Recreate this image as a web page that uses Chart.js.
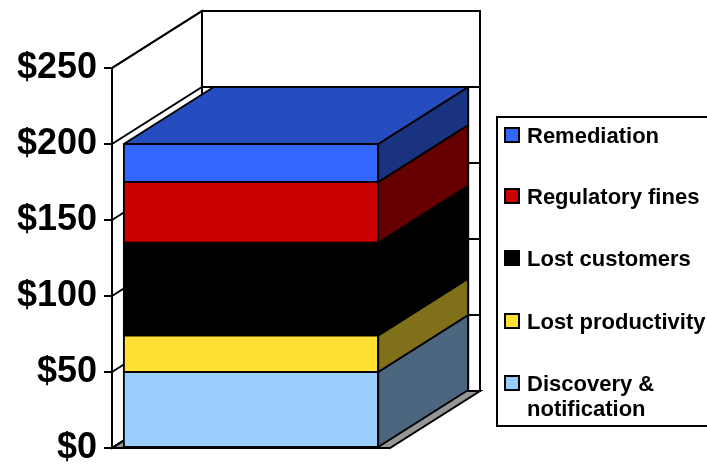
<!DOCTYPE html>
<html>
<head>
<meta charset="utf-8">
<script src="https://cdn.jsdelivr.net/npm/chart.js@4"></script>
<style>
  html, body { margin: 0; padding: 0; background: #fff; }
  #contenedor { width: 707px; height: 466px; position: relative; }
</style>
</head>
<body>
<div id="contenedor"><canvas id="grafico"></canvas></div>
<script>
// Datos del gráfico (orden de la pila: de abajo hacia arriba)
const categorias = ['Costo por registro'];
const series = ['Discovery & notification', 'Lost productivity', 'Lost customers', 'Regulatory fines', 'Remediation'];
const valores = [50, 24, 61, 40, 25];
const ticksY = [0, 50, 100, 150, 200, 250];

// Colores de la cara frontal de cada serie
const colores = ['#99CCFF', '#FFE033', '#000000', '#CC0000', '#3366FF'];

// Desplazamiento de la profundidad 3D (en píxeles)
const PROF_X = 90;
const PROF_Y = -57;
const FUENTE = '"Liberation Sans", Arial, sans-serif';

// Oscurecer un color hex por un factor
function oscurecer(hex, f) {
    const n = parseInt(hex.slice(1), 16);
    const r = Math.round(((n >> 16) & 255) * f);
    const g = Math.round(((n >> 8) & 255) * f);
    const b = Math.round((n & 255) * f);
    return 'rgb(' + r + ',' + g + ',' + b + ')';
}

function poligono(ctx, puntos, relleno) {
    ctx.beginPath();
    ctx.moveTo(puntos[0][0], puntos[0][1]);
    puntos.slice(1).forEach(p => ctx.lineTo(p[0], p[1]));
    ctx.closePath();
    if (relleno) {
        ctx.fillStyle = relleno;
        ctx.fill();
    }
    ctx.stroke();
}

// Paredes, piso y caras laterales/superior de la barra
const efecto3D = {
    id: 'efecto3D',
    beforeDatasetsDraw(chart) {
        const ctx = chart.ctx;
        const a = chart.chartArea;
        const y = chart.scales.y;
        const L = a.left, R = a.right;
        const T = y.getPixelForValue(y.max), B = y.getPixelForValue(y.min);
        ctx.save();
        ctx.strokeStyle = '#000';
        ctx.lineWidth = 2;
        // pared del fondo
        poligono(ctx, [[L + PROF_X, T + PROF_Y], [R + PROF_X, T + PROF_Y], [R + PROF_X, B + PROF_Y], [L + PROF_X, B + PROF_Y]], '#fff');
        // pared izquierda
        poligono(ctx, [[L, T], [L + PROF_X, T + PROF_Y], [L + PROF_X, B + PROF_Y], [L, B]], '#fff');
        // piso
        poligono(ctx, [[L, B], [R, B], [R + PROF_X, B + PROF_Y], [L + PROF_X, B + PROF_Y]], '#969696');
        // líneas de división en las paredes
        y.ticks.forEach(t => {
            const py = y.getPixelForValue(t.value);
            ctx.beginPath();
            ctx.moveTo(L, py);
            ctx.lineTo(L + PROF_X, py + PROF_Y);
            ctx.lineTo(R + PROF_X, py + PROF_Y);
            ctx.stroke();
        });
        ctx.restore();
    },
    afterDatasetsDraw(chart) {
        const ctx = chart.ctx;
        const n = chart.data.datasets.length;
        ctx.save();
        ctx.strokeStyle = '#000';
        ctx.lineWidth = 2;
        ctx.lineJoin = 'round';
        chart.data.datasets.forEach((ds, i) => {
            chart.getDatasetMeta(i).data.forEach(barra => {
                const p = barra.getProps(['x', 'y', 'base', 'width'], true);
                const xi = p.x - p.width / 2, xd = p.x + p.width / 2;
                // cara lateral
                poligono(ctx, [[xd, p.y], [xd + PROF_X, p.y + PROF_Y], [xd + PROF_X, p.base + PROF_Y], [xd, p.base]], oscurecer(colores[i], 0.5));
                // cara superior solo en el último segmento
                if (i === n - 1) {
                    poligono(ctx, [[xi, p.y], [xi + PROF_X, p.y + PROF_Y], [xd + PROF_X, p.y + PROF_Y], [xd, p.y]], oscurecer(colores[i], 0.75));
                }
            });
        });
        ctx.restore();
    }
};

// Leyenda dibujada a mano (orden inverso a la pila)
const leyenda = {
    id: 'leyenda',
    afterDraw(chart) {
        const ctx = chart.ctx;
        const n = chart.data.datasets.length;
        const bases = [143, 204, 266, 329, 391];
        ctx.save();
        ctx.strokeStyle = '#000';
        ctx.lineWidth = 2;
        ctx.strokeRect(497, 117, 240, 309);
        ctx.font = 'bold 22px ' + FUENTE;
        ctx.textBaseline = 'alphabetic';
        for (let k = 0; k < n; k++) {
            const i = n - 1 - k;
            const ds = chart.data.datasets[i];
            const by = bases[k];
            ctx.fillStyle = ds.backgroundColor;
            ctx.lineWidth = 2;
            ctx.fillRect(505, by - 15, 14, 14);
            ctx.strokeRect(505, by - 15, 14, 14);
            // partir el texto si no cabe
            const palabras = ds.label.split(' ');
            const lineas = [];
            let actual = '';
            palabras.forEach(w => {
                const prueba = actual ? actual + ' ' + w : w;
                if (ctx.measureText(prueba).width > 185 && actual) {
                    lineas.push(actual);
                    actual = w;
                } else {
                    actual = prueba;
                }
            });
            lineas.push(actual);
            ctx.fillStyle = '#000';
            lineas.forEach((l, j) => ctx.fillText(l, 527, by + j * 25));
        }
        ctx.restore();
    }
};

function renderizarGrafico() {
    const config = {
        type: 'bar',
        data: {
            labels: categorias,
            datasets: series.map((nombre, i) => ({
                label: nombre,
                data: [valores[i]],
                backgroundColor: colores[i],
                borderColor: '#000',
                borderWidth: 2,
                borderSkipped: false,
                inflateAmount: 1,
                barPercentage: 1,
                categoryPercentage: 0.915
            }))
        },
        options: {
            responsive: true,
            maintainAspectRatio: false,
            animation: false,
            layout: { padding: { top: 68, bottom: 18, left: 0, right: 317 } },
            plugins: {
                legend: { display: false },
                tooltip: { enabled: false }
            },
            scales: {
                x: { stacked: true, display: false },
                y: {
                    stacked: true,
                    min: 0,
                    max: 250,
                    afterBuildTicks: s => { s.ticks = ticksY.map(v => ({ value: v })); },
                    afterFit: s => {
                        s.width = 112;
                        s.paddingTop = 0;
                        s.paddingBottom = 0;
                    },
                    ticks: {
                        padding: 7,
                        color: '#000',
                        font: { family: FUENTE, size: 36, weight: 'bold' },
                        callback: v => '$' + v
                    },
                    grid: { drawOnChartArea: false, drawTicks: true, tickLength: 8, color: '#000', lineWidth: 2 },
                    border: { display: true, color: '#000', width: 2 }
                }
            }
        },
        plugins: [efecto3D, leyenda]
    };

    const ctx = document.getElementById('grafico').getContext('2d');
    new Chart(ctx, config);
}

renderizarGrafico();
</script>
</body>
</html>
